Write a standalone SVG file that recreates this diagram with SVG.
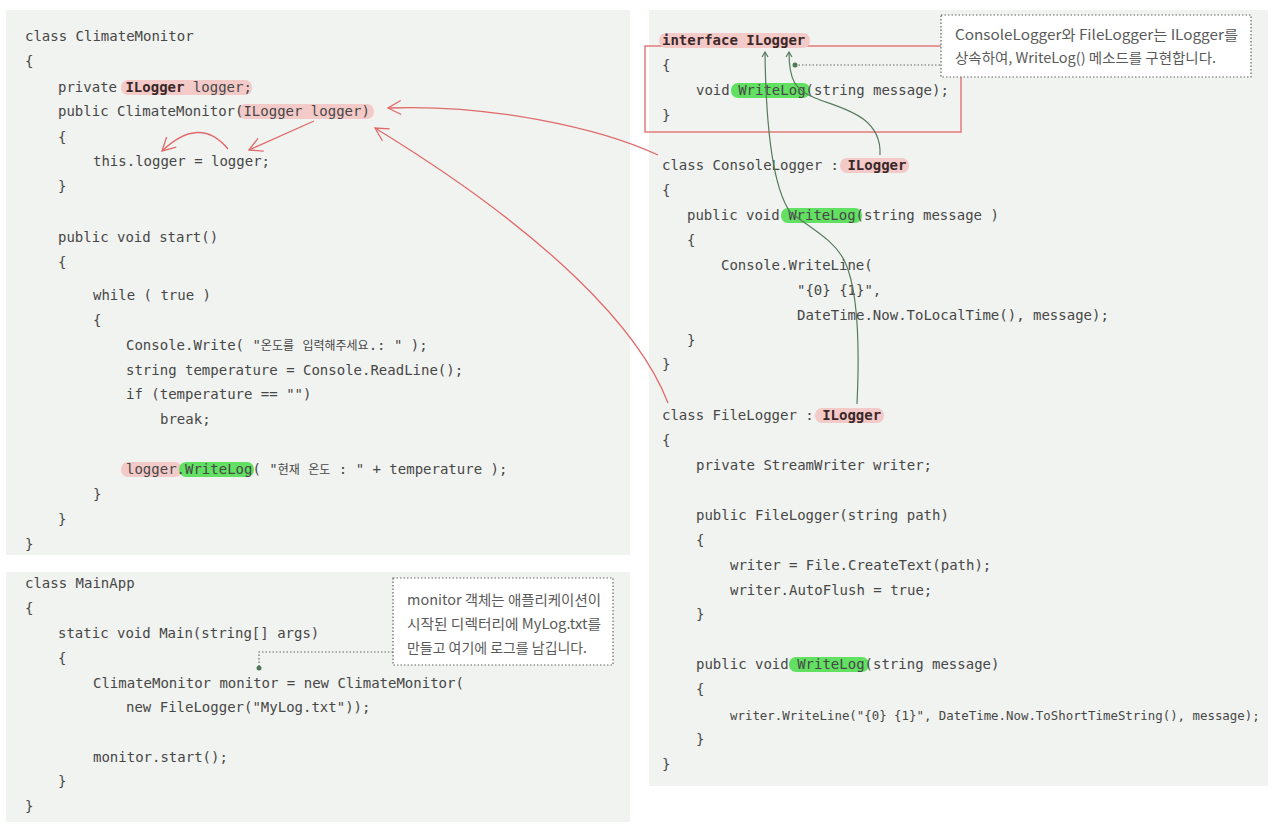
<svg xmlns="http://www.w3.org/2000/svg" width="1280" height="832" viewBox="0 0 1280 832">
<style>
.panel{fill:#f1f3f0}
.code{font-family:"DejaVu Sans Mono","Noto Sans CJK KR",monospace;font-size:14px;fill:#474747}
.b{font-weight:bold;fill:#3b2828}
.ko{font-size:12px}
.note{font-family:"Noto Sans CJK KR","Noto Sans",sans-serif;font-size:14px;fill:#5a5a5a}
.hp{fill:#f3cac8}
.hg{fill:#62e062}
.red{fill:none;stroke:#e06a6a;stroke-width:1.3}
.grn{fill:none;stroke:#557a5c;stroke-width:1.2}
.lead{fill:none;stroke:#666;stroke-width:1.2;stroke-dasharray:1.5 2}
.callout{fill:#fff;stroke:#666;stroke-width:1.2;stroke-dasharray:1.5 2}
.dot{fill:#4f7a58}
</style>
<defs>
<marker id="ra" viewBox="-15 -9 17 18" refX="0" refY="0" markerWidth="17" markerHeight="18" markerUnits="userSpaceOnUse" orient="auto">
<path d="M-13,-7 L0,0 L-13,7" fill="none" stroke="#e06a6a" stroke-width="1.3"/>
</marker>
<marker id="ga" viewBox="-7 -5 8 10" refX="0" refY="0" markerWidth="8" markerHeight="10" markerUnits="userSpaceOnUse" orient="auto">
<path d="M-5,-3 L0,0 L-5,3" fill="none" stroke="#557a5c" stroke-width="1.2"/>
</marker>
</defs>
<rect width="1280" height="832" fill="#ffffff"/>

<g id="climate-monitor">
<rect class="panel" x="6" y="10" width="624" height="545"/>
<rect class="hp" x="121" y="80" width="131" height="15" rx="7"/>
<rect class="hp" x="238" y="104" width="136" height="15" rx="7"/>
<rect class="hp" x="121" y="462" width="61" height="15" rx="7"/>
<rect class="hg" x="179" y="462" width="75" height="15" rx="7"/>
<text class="code" x="25" y="41">class ClimateMonitor</text>
<text class="code" x="25" y="66">{</text>
<text class="code" x="58" y="92">private <tspan class="b">ILogger</tspan> logger;</text>
<text class="code" x="58" y="116">public ClimateMonitor(ILogger logger)</text>
<text class="code" x="58" y="142">{</text>
<text class="code" x="93" y="166">this.logger = logger;</text>
<text class="code" x="58" y="191">}</text>
<text class="code" x="58" y="242">public void start()</text>
<text class="code" x="58" y="267">{</text>
<text class="code" x="93" y="300">while ( true )</text>
<text class="code" x="93" y="325">{</text>
<text class="code" x="126" y="350">Console.Write( "<tspan class="ko">온도를</tspan> <tspan class="ko">입력해주세요</tspan>.: " );</text>
<text class="code" x="126" y="375">string temperature = Console.ReadLine();</text>
<text class="code" x="126" y="399">if (temperature == "")</text>
<text class="code" x="160" y="424">break;</text>
<text class="code" x="126" y="474">logger.WriteLog( "<tspan class="ko">현재</tspan> <tspan class="ko">온도</tspan> : " + temperature );</text>
<text class="code" x="93" y="499">}</text>
<text class="code" x="58" y="524">}</text>
<text class="code" x="25" y="549">}</text>
</g>

<g id="main-app">
<rect class="panel" x="6" y="572" width="624" height="250"/>
<text class="code" x="25" y="588">class MainApp</text>
<text class="code" x="25" y="613">{</text>
<text class="code" x="58" y="638">static void Main(string[] args)</text>
<text class="code" x="58" y="663">{</text>
<text class="code" x="93" y="688">ClimateMonitor monitor = new ClimateMonitor(</text>
<text class="code" x="126" y="712">new FileLogger("MyLog.txt"));</text>
<text class="code" x="93" y="762">monitor.start();</text>
<text class="code" x="58" y="786">}</text>
<text class="code" x="25" y="811">}</text>
</g>

<g id="loggers">
<rect class="panel" x="649" y="10" width="619" height="776"/>
<rect x="645" y="46" width="316" height="86" fill="none" stroke="#e07b7b" stroke-width="1.5"/>
<rect class="hp" x="659" y="33" width="151" height="15" rx="7"/>
<rect class="hg" x="731" y="83" width="79" height="15" rx="7"/>
<rect class="hp" x="840" y="158" width="69" height="15" rx="7"/>
<rect class="hg" x="781" y="208" width="81" height="15" rx="7"/>
<rect class="hp" x="815" y="408" width="69" height="15" rx="7"/>
<rect class="hg" x="789" y="657" width="80" height="15" rx="7"/>
<text class="code b" x="662" y="45">interface ILogger</text>
<text class="code" x="662" y="70">{</text>
<text class="code" x="696" y="95">void WriteLog(string message);</text>
<text class="code" x="662" y="120">}</text>
<text class="code" x="662" y="170">class ConsoleLogger : <tspan class="b">ILogger</tspan></text>
<text class="code" x="662" y="195">{</text>
<text class="code" x="687" y="220">public void WriteLog(string message )</text>
<text class="code" x="687" y="245">{</text>
<text class="code" x="721" y="270">Console.WriteLine(</text>
<text class="code" x="797" y="295">"{0} {1}",</text>
<text class="code" x="797" y="320">DateTime.Now.ToLocalTime(), message);</text>
<text class="code" x="687" y="345">}</text>
<text class="code" x="662" y="369">}</text>
<text class="code" x="662" y="420">class FileLogger : <tspan class="b">ILogger</tspan></text>
<text class="code" x="662" y="445">{</text>
<text class="code" x="696" y="470">private StreamWriter writer;</text>
<text class="code" x="696" y="520">public FileLogger(string path)</text>
<text class="code" x="696" y="545">{</text>
<text class="code" x="730" y="570">writer = File.CreateText(path);</text>
<text class="code" x="730" y="595">writer.AutoFlush = true;</text>
<text class="code" x="696" y="619">}</text>
<text class="code" x="696" y="669">public void WriteLog(string message)</text>
<text class="code" x="696" y="694">{</text>
<text class="code" x="730" y="720" style="font-size:12.4px">writer.WriteLine("{0} {1}", DateTime.Now.ToShortTimeString(), message);</text>
<text class="code" x="696" y="744">}</text>
<text class="code" x="662" y="769">}</text>
</g>

<g id="note-inherit">
<rect class="callout" x="941" y="15" width="310" height="62"/>
<text class="note" x="955" y="40" textLength="283" lengthAdjust="spacingAndGlyphs">ConsoleLogger와 FileLogger는 ILogger를</text>
<text class="note" x="955" y="63" textLength="261" lengthAdjust="spacingAndGlyphs">상속하여, WriteLog() 메소드를 구현합니다.</text>
</g>

<g id="note-monitor">
<rect class="callout" x="393" y="578" width="220" height="87"/>
<text class="note" x="407" y="605" textLength="194" lengthAdjust="spacingAndGlyphs">monitor 객체는 애플리케이션이</text>
<text class="note" x="407" y="629" textLength="194" lengthAdjust="spacingAndGlyphs">시작된 디렉터리에 MyLog.txt를</text>
<text class="note" x="407" y="653" textLength="180" lengthAdjust="spacingAndGlyphs">만들고 여기에 로그를 남깁니다.</text>
</g>

<g id="connectors">
<path class="red" d="M658 155 C600 128 490 104 388 108" marker-end="url(#ra)"/>
<path class="red" d="M668 403 C640 330 550 235 375 128" marker-end="url(#ra)"/>
<path class="red" d="M314 121 L249 150" marker-end="url(#ra)"/>
<path class="red" d="M228 149 Q200 115 162 151" marker-end="url(#ra)"/>
<path class="grn" d="M880 155 C882 115 840 108 815 98 C795 90 789 80 789 52" marker-end="url(#ga)"/>
<path class="grn" d="M857 404 C860 340 858 290 845 262 C835 240 810 228 790 212 C775 190 766 140 765 52" marker-end="url(#ga)"/>
<path class="lead" d="M795 65 H941"/>
<circle class="dot" cx="795" cy="65" r="2.5"/>
<path class="lead" d="M393 652 H259 V668"/>
<circle class="dot" cx="259" cy="668" r="2.5"/>
</g>
</svg>
